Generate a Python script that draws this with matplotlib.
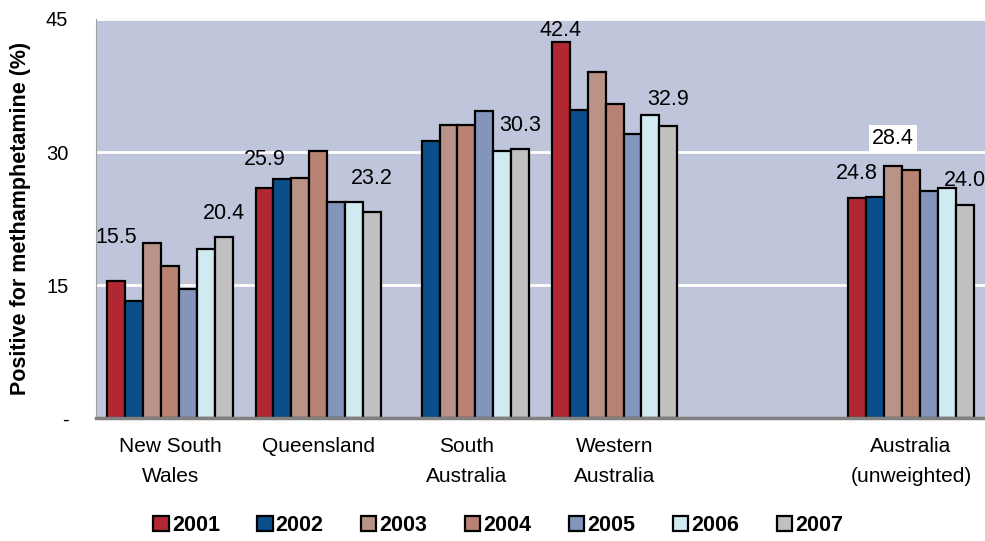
import matplotlib
matplotlib.use('Agg')
import matplotlib.pyplot as plt
import numpy as np

plt.rcParams['font.family'] = ['Liberation Sans', 'DejaVu Sans']

categories = ['New South\nWales', 'Queensland', 'South\nAustralia', 'Western\nAustralia', '', 'Australia\n(unweighted)']
years = ['2001', '2002', '2003', '2004', '2005', '2006', '2007']
nan = np.nan
v2001 = [15.5, 25.9, nan, 42.4, nan, 24.8]
v2002 = [13.2, 27.0, 31.2, 34.7, nan, 24.9]
v2003 = [19.7, 27.1, 33.0, 39.0, nan, 28.4]
v2004 = [17.2, 30.1, 33.1, 35.4, nan, 28.0]
v2005 = [14.6, 24.4, 34.6, 32.0, nan, 25.6]
v2006 = [19.1, 24.4, 30.1, 34.2, nan, 25.9]
v2007 = [20.4, 23.2, 30.3, 32.9, nan, 24.0]
series = [v2001, v2002, v2003, v2004, v2005, v2006, v2007]
colors = ['#B22832', '#0A4F8C', '#B99387', '#B88272', '#8395BB', '#CFEAF0', '#C0C0C0']

# which bars get a value label: (category index, year index, lift in points)
labels = [(0, 0, 31), (0, 6, 17), (1, 0, 21), (1, 6, 24), (2, 6, 17),
          (3, 0, 8), (3, 6, 19), (5, 0, 18), (5, 2, 20), (5, 6, 18)]

fig = plt.figure(figsize=(9.85, 5.41), dpi=100)
ax = fig.add_axes([0.0975, 0.2273, 0.9025, 0.7376])
ax.set_facecolor('#BFC5DA')

x = np.arange(len(categories))
w = 0.121
for i, vals in enumerate(series):
    ax.bar(x + (i - 3) * w, vals, w, color=colors[i], edgecolor='black',
           linewidth=1.6, label=years[i], zorder=3)

for ci, yi, lift in labels:
    v = series[yi][ci]
    bbox = dict(facecolor='white', edgecolor='none', pad=2) if (ci, yi) == (5, 2) else None
    ax.annotate('%.1f' % v, (x[ci] + (yi - 3) * w, v), xytext=(0, lift),
                textcoords='offset points', ha='center', va='center',
                fontsize=15.5, bbox=bbox, zorder=5)

ax.set_xlim(-0.5, len(categories) - 0.5)
ax.set_ylim(0, 45)
ax.set_yticks([0, 15, 30, 45])
ax.set_yticklabels(['-', '15', '30', '45'], fontsize=14.5)
ax.set_xticks(x)
ax.set_xticklabels(categories, fontsize=15, linespacing=1.7)
ax.tick_params(axis='both', length=0)
ax.tick_params(axis='x', pad=14)
ax.tick_params(axis='y', pad=20)
ax.grid(axis='y', color='white', linewidth=2, zorder=1)
ax.set_axisbelow(True)
for s in ['top', 'right']:
    ax.spines[s].set_visible(False)
ax.spines['left'].set_color('#A0A0A0')
ax.spines['left'].set_linewidth(0.8)
ax.spines['bottom'].set_color('#808080')
ax.spines['bottom'].set_linewidth(2.5)
ax.spines['bottom'].set_zorder(4)

ax.set_ylabel('Positive for methamphetamine (%)', fontsize=15.5, fontweight='bold', labelpad=11)

leg = fig.legend(loc='lower center', bbox_to_anchor=(0.506, -0.027), ncol=7,
                 frameon=False, handlelength=0.7, handleheight=0.7,
                 handletextpad=0.15, columnspacing=1.75,
                 prop={'weight': 'bold', 'size': 15.5})

fig.savefig('out.png', dpi=100)
